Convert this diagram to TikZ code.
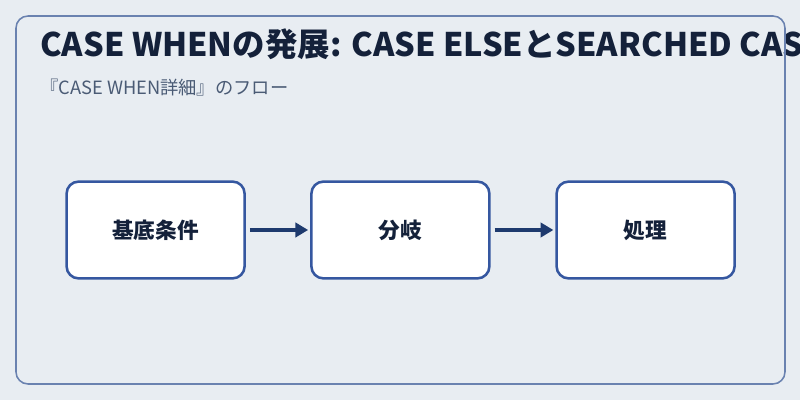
\documentclass[tikz,border=0pt]{standalone}
\usepackage{fontspec}
\setmainfont{Noto Sans CJK JP}
\usetikzlibrary{arrows.meta, positioning}
\definecolor{PageBlue}{HTML}{E8EDF2}
\definecolor{FrameBlue}{HTML}{6A82B0}
\definecolor{BoxBlue}{HTML}{3557A0}
\definecolor{ArrowNavy}{HTML}{1E3A6E}
\definecolor{TitleInk}{HTML}{14213A}
\definecolor{SubGray}{HTML}{4A5B75}
\tikzset{
  frame/.style={draw=FrameBlue, line width=1.1pt, rounded corners=0.3cm},
  titletext/.style={font=\fontsize{23.1}{28}\selectfont\bfseries, text=TitleInk,
                    anchor=base west, inner sep=0pt},
  subtext/.style={font=\fontsize{13}{16}\selectfont, text=SubGray,
                  anchor=base west, inner sep=0pt},
  flowbox/.style={draw=BoxBlue, line width=1.8pt, fill=white,
                  rounded corners=0.3cm, align=center,
                  minimum width=4.45cm, minimum height=2.42cm,
                  font=\fontsize{15.4}{18}\selectfont\bfseries, text=TitleInk},
  flowarrow/.style={-{Triangle[length=0.32cm, width=0.36cm]},
                    line width=2.2pt, draw=ArrowNavy,
                    shorten <=0.1cm, shorten >=0.05cm},
}
\begin{document}
\begin{tikzpicture}
    % page 800x400 px -> 20 x 10 cm
    \fill[PageBlue] (0,0) rectangle (20,10);
    \clip (0,0) rectangle (20,10);
    \useasboundingbox (0,0) rectangle (20,10);

    % title runs past the right edge, as in the original
    \node[titletext] (title) at (1.0, 8.58)
      {CASE WHENの発展: CASE ELSEとSEARCHED CASE};
    \node[subtext] (sub) at (1.0, 7.63) {『CASE WHEN詳細』のフロー};

    % frame drawn after the title, its edge crosses the last letters
    \draw[frame] (0.4,0.4) rectangle (19.625,9.6);

    \node[flowbox] (cond)   at (3.89, 4.25)  {基底条件};
    \node[flowbox] (branch) at (10.01, 4.25) {分岐};
    \node[flowbox] (proc)   at (16.14, 4.25) {処理};

    \draw[flowarrow] (cond) -- (branch);
    \draw[flowarrow] (branch) -- (proc);
\end{tikzpicture}
\end{document}
